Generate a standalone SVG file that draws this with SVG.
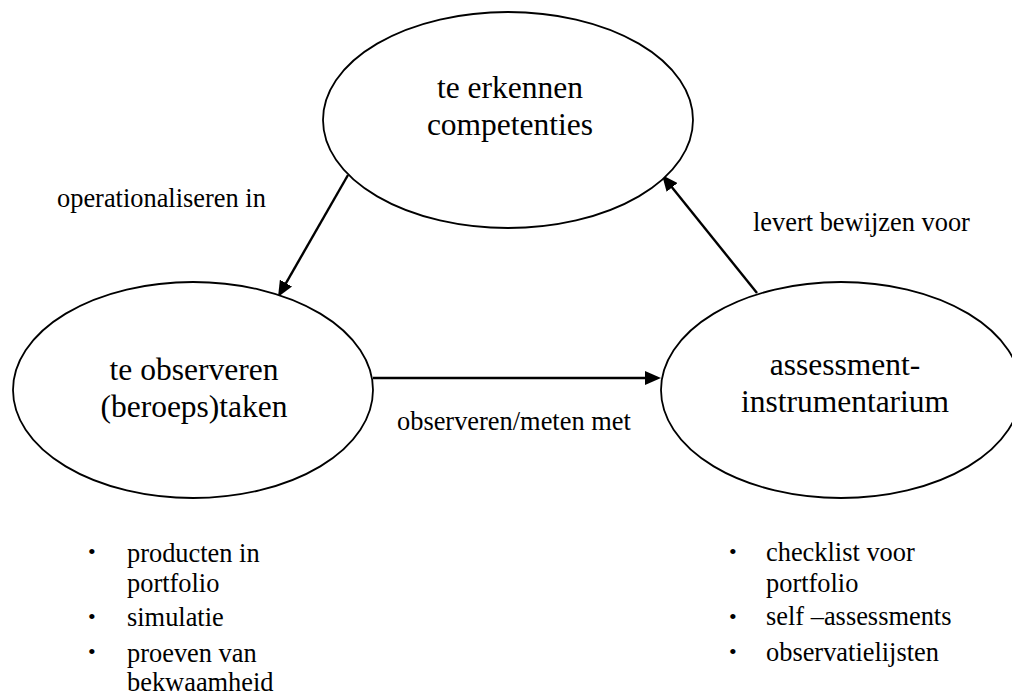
<svg xmlns="http://www.w3.org/2000/svg" width="1012" height="695" viewBox="0 0 1012 695">
<style>
.node{fill:#fff;stroke:#000;stroke-width:1.8}
.nt{font-family:'Liberation Serif','Times New Roman',Tinos,'DejaVu Serif',serif;font-size:31.5px;fill:#000;text-anchor:middle}
.lb{font-family:'Liberation Serif','Times New Roman',Tinos,'DejaVu Serif',serif;font-size:26.4px;fill:#000}
.bl{font-family:'Liberation Serif','Times New Roman',Tinos,'DejaVu Serif',serif;font-size:22px;fill:#000}
.edge{stroke:#000;stroke-width:2.4;fill:none;marker-end:url(#ah)}
</style>
<defs>
<marker id="ah" viewBox="0 0 16 14" refX="6" refY="7" markerWidth="16" markerHeight="14" markerUnits="userSpaceOnUse" orient="auto">
<path d="M0,0 L16,7 L0,14 z" fill="#000"/>
</marker>
</defs>
<rect width="1012" height="695" fill="#fff"/>
<g id="connectors">
<line class="edge" x1="348" y1="175" x2="283" y2="288.3"/>
<line class="edge" x1="373" y1="378" x2="651" y2="378"/>
<line class="edge" x1="757" y1="293" x2="668.3" y2="182.8"/>
</g>
<g id="node-competenties">
<ellipse class="node" cx="508" cy="120" rx="185" ry="108"/>
<text class="nt" x="510" y="98">te erkennen</text>
<text class="nt" x="510" y="135">competenties</text>
</g>
<g id="node-taken">
<ellipse class="node" cx="193" cy="390" rx="180" ry="108"/>
<text class="nt" x="194" y="380">te observeren</text>
<text class="nt" x="194" y="417">(beroeps)taken</text>
</g>
<g id="node-instrumentarium">
<ellipse class="node" cx="841" cy="390" rx="180" ry="108"/>
<text class="nt" x="845" y="375">assessment-</text>
<text class="nt" x="845" y="412">instrumentarium</text>
</g>
<g id="labels">
<text class="lb" x="57" y="207">operationaliseren in</text>
<text class="lb" x="397" y="430">observeren/meten met</text>
<text class="lb" x="753" y="231">levert bewijzen voor</text>
</g>
<g id="list-left">
<text class="bl" x="88" y="559">•</text>
<text class="lb" x="127" y="562">producten in</text>
<text class="lb" x="127" y="592">portfolio</text>
<text class="bl" x="88" y="624">•</text>
<text class="lb" x="127" y="626">simulatie</text>
<text class="bl" x="88" y="659">•</text>
<text class="lb" x="127" y="662">proeven van</text>
<text class="lb" x="127" y="691">bekwaamheid</text>
</g>
<g id="list-right">
<text class="bl" x="729" y="559">•</text>
<text class="lb" x="766" y="561">checklist voor</text>
<text class="lb" x="766" y="592">portfolio</text>
<text class="bl" x="729" y="624">•</text>
<text class="lb" x="766" y="625">self –assessments</text>
<text class="bl" x="729" y="659">•</text>
<text class="lb" x="766" y="661">observatielijsten</text>
</g>
</svg>
